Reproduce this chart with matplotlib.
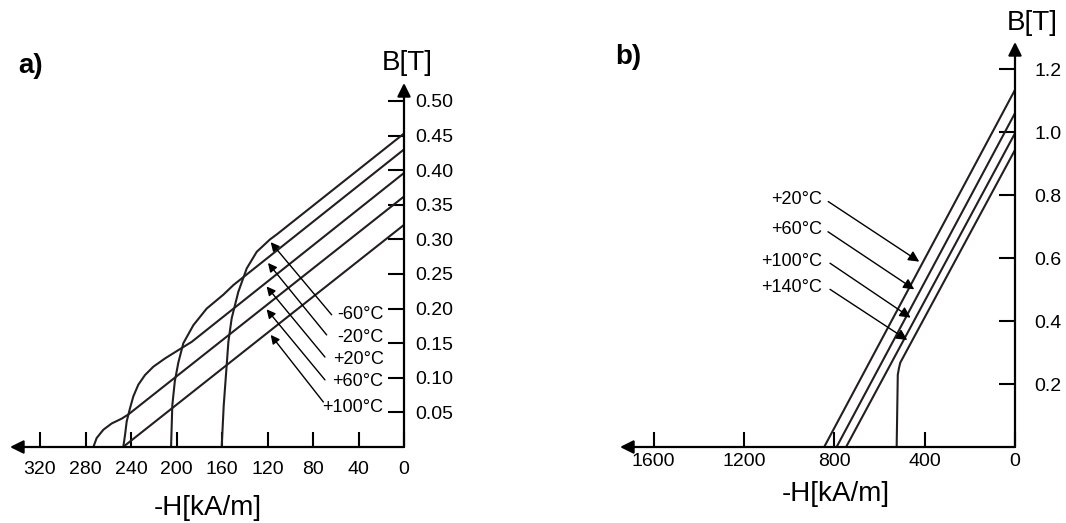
import matplotlib
matplotlib.use('Agg')
import matplotlib.pyplot as plt

plt.rcParams['font.family'] = ['Liberation Sans', 'DejaVu Sans']

# --- a) ferrite magnet, demagnetisation curves (H in kA/m, B in T)
H_a_m60 = [0, 112, 117.8, 129.5, 138.3, 145.7, 151.5, 154.4, 155.9, 158.5, 160.3]
B_a_m60 = [0.453, 0.307, 0.300, 0.282, 0.258, 0.224, 0.186, 0.152, 0.118, 0.060, 0.0]
H_a_m20 = [0, 150, 158.9, 173.5, 185.2, 194, 198.4, 201.5, 203.7, 204.8]
B_a_m20 = [0.430, 0.234, 0.220, 0.200, 0.176, 0.150, 0.122, 0.095, 0.060, 0.0]
H_a_p20 = [0, 186.6, 198.4, 210.1, 220.4, 227.7, 233.6, 238, 240.9, 243.8, 245.3, 246.8]
B_a_p20 = [0.396, 0.152, 0.140, 0.128, 0.116, 0.104, 0.090, 0.073, 0.056, 0.037, 0.017, 0.0]
H_a_p60 = [0, 242.4, 248.2, 257, 264.3, 270.2, 273.1]
B_a_p60 = [0.362, 0.047, 0.041, 0.034, 0.025, 0.013, 0.0]
H_a_p100 = [0, 247]
B_a_p100 = [0.321, 0.0]

temps_a = ['-60°C', '-20°C', '+20°C', '+60°C', '+100°C']
label_B_a = [0.191, 0.158, 0.127, 0.094, 0.057]
arrow_tail_a = [(63.6, 0.191), (68.0, 0.162), (69.5, 0.130), (69.5, 0.097), (70.9, 0.065)]
arrow_head_a = [(117.2, 0.296), (119.6, 0.266), (120.8, 0.232), (120.8, 0.199), (117.2, 0.162)]

xticks_a = [320, 280, 240, 200, 160, 120, 80, 40, 0]
yticks_a = [0.50, 0.45, 0.40, 0.35, 0.30, 0.25, 0.20, 0.15, 0.10, 0.05]

# --- b) NdFeB magnet
H_b_p20 = [0, 845]
B_b_p20 = [1.135, 0.0]
H_b_p60 = [0, 790]
B_b_p60 = [1.061, 0.0]
H_b_p100 = [0, 748]
B_b_p100 = [0.997, 0.0]
H_b_p140 = [0, 508, 514, 519, 524]
B_b_p140 = [0.944, 0.268, 0.250, 0.230, 0.0]

temps_b = ['+20°C', '+60°C', '+100°C', '+140°C']
label_B_b = [0.787, 0.690, 0.589, 0.508]
arrow_tail_b = [(827, 0.780), (828, 0.684), (819, 0.584), (819, 0.501)]
arrow_head_b = [(424, 0.589), (446, 0.501), (462, 0.411), (477, 0.340)]

xticks_b = [1600, 1200, 800, 400, 0]
yticks_b = [0.2, 0.4, 0.6, 0.8, 1.0, 1.2]

W, Hpx = 1066, 523
fig = plt.figure(figsize=(W / 100, Hpx / 100), dpi=100)


def px_axes(left, right, bottom, top):
    return fig.add_axes([left / W, 1 - bottom / Hpx, (right - left) / W, (bottom - top) / Hpx])


def setup(ax, xmax, ymax, xt, xl, yt, yl, xpad, ypad):
    ax.set_xlim(xmax, 0)
    ax.set_ylim(0, ymax)
    for s in ax.spines.values():
        s.set_visible(False)
    ax.patch.set_visible(False)
    ax.yaxis.tick_right()
    ax.set_xticks(xt)
    ax.set_xticklabels(xl)
    ax.set_yticks(yt)
    ax.set_yticklabels(yl)
    ax.tick_params(axis='x', direction='in', length=11, width=1.5, pad=xpad, labelsize=14)
    ax.tick_params(axis='y', direction='in', length=11.5, width=1.5, pad=ypad, labelsize=14)
    arr = dict(arrowstyle='-|>', lw=1.6, color='k', mutation_scale=20, shrinkA=0, shrinkB=0)
    ax.annotate('', xy=(0, ymax), xytext=(0, 0), arrowprops=arr, annotation_clip=False)
    ax.annotate('', xy=(xmax, 0), xytext=(0, 0), arrowprops=arr, annotation_clip=False)


# panel a
ax1 = px_axes(10, 404, 447, 83)
setup(ax1, 346.4, 0.526, xticks_a, [str(v) for v in xticks_a],
      yticks_a, ['%.2f' % v for v in yticks_a], 10, 8)
for h, b in [(H_a_m60, B_a_m60), (H_a_m20, B_a_m20), (H_a_p20, B_a_p20),
             (H_a_p60, B_a_p60), (H_a_p100, B_a_p100)]:
    ax1.plot(h, b, color='#231f20', lw=1.5, clip_on=False, solid_capstyle='butt',
             solid_joinstyle='round')
for t, yb, tail, head in zip(temps_a, label_B_a, arrow_tail_a, arrow_head_a):
    ax1.text(18, yb, t, ha='right', va='center', fontsize=13)
    ax1.annotate('', xy=head, xytext=tail,
                 arrowprops=dict(arrowstyle='-|>', lw=1.0, color='k', mutation_scale=13,
                                 shrinkA=0, shrinkB=0))

# panel b
ax2 = px_axes(620, 1015, 447, 42)
setup(ax2, 1749, 1.287, xticks_b, [str(v) for v in xticks_b],
      yticks_b, ['%.1f' % v for v in yticks_b], 4, 14)
for h, b in [(H_b_p20, B_b_p20), (H_b_p60, B_b_p60), (H_b_p100, B_b_p100), (H_b_p140, B_b_p140)]:
    ax2.plot(h, b, color='#231f20', lw=1.5, clip_on=False, solid_capstyle='butt',
             solid_joinstyle='round')
for t, yb, tail, head in zip(temps_b, label_B_b, arrow_tail_b, arrow_head_b):
    ax2.text(855, yb, t, ha='right', va='center', fontsize=13)
    ax2.annotate('', xy=head, xytext=tail,
                 arrowprops=dict(arrowstyle='-|>', lw=1.0, color='k', mutation_scale=16,
                                 shrinkA=0, shrinkB=0))

# panel captions and axis names
fig.text(18 / W, 1 - 66 / Hpx, 'a)', fontsize=20, fontweight='bold', ha='left', va='center')
fig.text(615 / W, 1 - 57 / Hpx, 'b)', fontsize=20, fontweight='bold', ha='left', va='center')
fig.text(407 / W, 1 - 63 / Hpx, 'B[T]', fontsize=20, ha='center', va='center')
fig.text(1032 / W, 1 - 23 / Hpx, 'B[T]', fontsize=20, ha='center', va='center')
fig.text(207.5 / W, 1 - 508 / Hpx, '-H[kA/m]', fontsize=20, ha='center', va='center')
fig.text(835.5 / W, 1 - 494 / Hpx, '-H[kA/m]', fontsize=20, ha='center', va='center')

fig.savefig('out.png', dpi=100)
